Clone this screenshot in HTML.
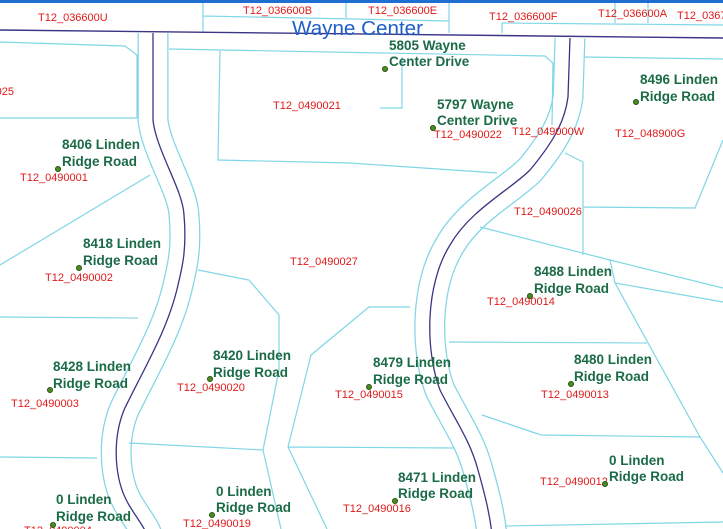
<!DOCTYPE html>
<html><head><meta charset="utf-8"><style>
html,body{margin:0;padding:0;background:#fff;}
svg{display:block;}
.r{font-family:"Liberation Sans",sans-serif;font-size:11px;fill:#e01a1a;}
.g{font-family:"Liberation Sans",sans-serif;font-size:13.5px;font-weight:bold;fill:#1b6b47;}
.p{fill:none;stroke:#7fd6e6;stroke-width:1.2;}
</style></head><body>
<svg width="723" height="529" viewBox="0 0 723 529" xmlns="http://www.w3.org/2000/svg">
<rect width="723" height="529" fill="#fff"/>
<g fill="none" stroke-linecap="butt">
<path d="M153,33 L153,120 C156,150 183,190 184,215 C187,250 182,268 178,285 C168,330 143,370 124,410 C112,440 114,480 129,505 C138,520 145,528 147,535" stroke="#7fd6e6" stroke-width="31"/>
<path d="M153,33 L153,120 C156,150 183,190 184,215 C187,250 182,268 178,285 C168,330 143,370 124,410 C112,440 114,480 129,505 C138,520 145,528 147,535" stroke="#fff" stroke-width="28.5"/>
<path d="M153,33 L153,120 C156,150 183,190 184,215 C187,250 182,268 178,285 C168,330 143,370 124,410 C112,440 114,480 129,505 C138,520 145,528 147,535" stroke="#3a3585" stroke-width="1.3"/>
<path d="M570,38 L568,97 C565,120 555,140 530,170 C510,190 470,210 450,245 C425,285 425,350 440,390 C455,420 470,440 478,470 C485,495 490,515 492,535" stroke="#7fd6e6" stroke-width="31"/>
<path d="M570,38 L568,97 C565,120 555,140 530,170 C510,190 470,210 450,245 C425,285 425,350 440,390 C455,420 470,440 478,470 C485,495 490,515 492,535" stroke="#fff" stroke-width="28.5"/>
<path d="M570,38 L568,97 C565,120 555,140 530,170 C510,190 470,210 450,245 C425,285 425,350 440,390 C455,420 470,440 478,470 C485,495 490,515 492,535" stroke="#3a3585" stroke-width="1.3"/>
</g>
<rect x="0" y="0" width="723" height="3" fill="#1f6fd0"/>
<g class="p">
<path d="M203,3 V33 M203,16 L449,21 M346,3 V18 M449,3 V33 M502,23 L723,25 M502,23 V33 M615,3 V23 M648,3 V23"/>
<path d="M0,42 L125,46 L137,55 L137,118 M0,118 L137,118"/>
<path d="M0,265 L150,175"/>
<path d="M169,49 L545,56 L553,63 L552,125"/>
<path d="M220,51 L218,160 L350,163 L497,173"/>
<path d="M402,57 V108 H380"/>
<path d="M585,57 L723,59 M723,140 L695,208 L583,207 M583,162 V255 M565,153 L583,162 M480,227 L610,260 L723,288"/>
<path d="M0,317 L138,318"/>
<path d="M198,270 L249,280 L279,315 L279,370 L263,450 L129,443 M263,450 L281,529"/>
<path d="M288,447 L311,355 L369,307 L410,307 M288,447 L454,448 M288,447 L327,529"/>
<path d="M0,457 L97,458"/>
<path d="M449,342 L647,343"/>
<path d="M610,260 L615,283 L723,302 M615,283 L700,437 L723,473"/>
<path d="M482,415 L541,435 L700,437"/>
<path d="M505,526 L723,522"/>
</g>
<line x1="0" y1="30" x2="723" y2="38" stroke="#3a3585" stroke-width="1.4"/>
<text class="r" x="38" y="21">T12_036600U</text>
<text class="r" x="243" y="14">T12_036600B</text>
<text class="r" x="368" y="14">T12_036600E</text>
<text class="r" x="489" y="20">T12_036600F</text>
<text class="r" x="598" y="17">T12_036600A</text>
<text class="r" x="677" y="19">T12_0367</text>
<text x="292" y="35" font-family="Liberation Sans,sans-serif" font-size="20" fill="#1f5fc8" textLength="131" lengthAdjust="spacingAndGlyphs">Wayne Center</text>
<text class="r" x="14" y="95" text-anchor="end">025</text>
<text class="r" x="273" y="109">T12_0490021</text>
<text class="r" x="434" y="138">T12_0490022</text>
<text class="r" x="512" y="135">T12_049000W</text>
<text class="r" x="615" y="137">T12_048900G</text>
<text class="r" x="20" y="181">T12_0490001</text>
<text class="r" x="514" y="215">T12_0490026</text>
<text class="r" x="45" y="281">T12_0490002</text>
<text class="r" x="290" y="265">T12_0490027</text>
<text class="r" x="487" y="305">T12_0490014</text>
<text class="r" x="177" y="391">T12_0490020</text>
<text class="r" x="335" y="398">T12_0490015</text>
<text class="r" x="541" y="398">T12_0490013</text>
<text class="r" x="11" y="407">T12_0490003</text>
<text class="r" x="540" y="485">T12_0490012</text>
<text class="r" x="343" y="512">T12_0490016</text>
<text class="r" x="183" y="527">T12_0490019</text>
<text class="r" x="24" y="534">T12_0490004</text>
<g class="g">
<text x="389" y="50">5805 Wayne</text><text x="389" y="66">Center Drive</text>
<text x="640" y="84">8496 Linden</text><text x="640" y="101">Ridge Road</text>
<text x="437" y="109">5797 Wayne</text><text x="437" y="125">Center Drive</text>
<text x="62" y="149">8406 Linden</text><text x="62" y="166">Ridge Road</text>
<text x="83" y="248">8418 Linden</text><text x="83" y="265">Ridge Road</text>
<text x="534" y="276">8488 Linden</text><text x="534" y="293">Ridge Road</text>
<text x="213" y="360">8420 Linden</text><text x="213" y="377">Ridge Road</text>
<text x="373" y="367">8479 Linden</text><text x="373" y="384">Ridge Road</text>
<text x="574" y="364">8480 Linden</text><text x="574" y="381">Ridge Road</text>
<text x="53" y="371">8428 Linden</text><text x="53" y="388">Ridge Road</text>
<text x="609" y="465">0 Linden</text><text x="609" y="481">Ridge Road</text>
<text x="398" y="482">8471 Linden</text><text x="398" y="498">Ridge Road</text>
<text x="216" y="496">0 Linden</text><text x="216" y="512">Ridge Road</text>
<text x="56" y="504">0 Linden</text><text x="56" y="521">Ridge Road</text>
</g>
<g fill="#4a8a1e" stroke="#1f4a10" stroke-width="0.8">
<circle cx="385" cy="69" r="2.6"/><circle cx="636" cy="102" r="2.6"/><circle cx="433" cy="128" r="2.6"/>
<circle cx="58" cy="169" r="2.6"/><circle cx="79" cy="268" r="2.6"/><circle cx="530" cy="296" r="2.6"/>
<circle cx="210" cy="379" r="2.6"/><circle cx="369" cy="387" r="2.6"/><circle cx="571" cy="384" r="2.6"/>
<circle cx="50" cy="390" r="2.6"/><circle cx="605" cy="484" r="2.6"/><circle cx="395" cy="501" r="2.6"/>
<circle cx="212" cy="515" r="2.6"/><circle cx="53" cy="525" r="2.6"/>
</g>
</svg>
</body></html>
